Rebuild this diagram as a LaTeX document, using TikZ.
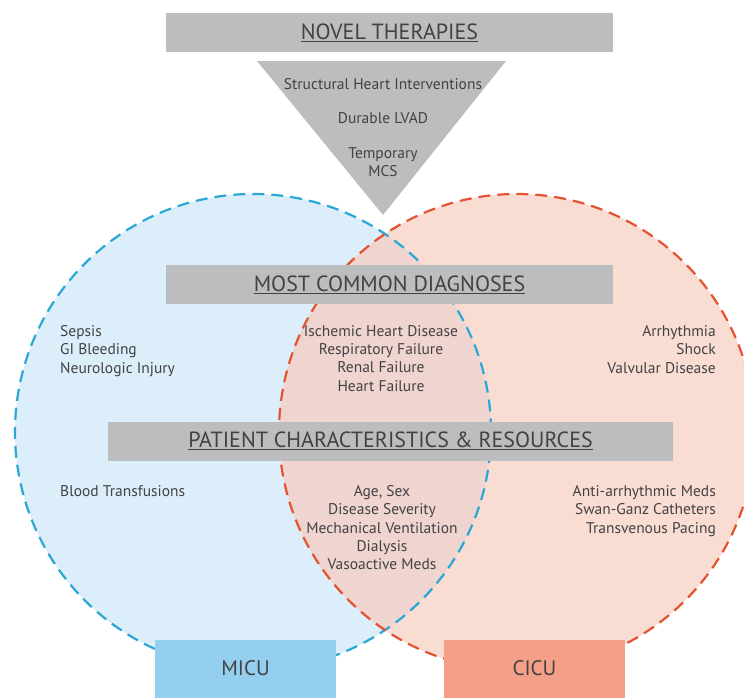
\documentclass[tikz,border=0pt]{standalone}
\usepackage{fontspec}
\setmainfont{PT Sans}

\definecolor{barGray}{HTML}{BCBDBF}
\definecolor{inkGray}{HTML}{424244}
\definecolor{micuFill}{HTML}{DCEEFA}
\definecolor{cicuFill}{HTML}{FADDD2}
\definecolor{lensFill}{HTML}{EFD4D0}
\definecolor{micuLine}{HTML}{2AA7D5}
\definecolor{cicuLine}{HTML}{E4532F}
\definecolor{micuBox}{HTML}{95CFEF}
\definecolor{cicuBox}{HTML}{F49F87}

\tikzset{
  bar/.style={fill=barGray, inner sep=0pt, minimum height=39pt, text=inkGray,
    font=\fontsize{22}{26}\selectfont},
  item/.style={inner sep=0pt, text=inkGray, font=\fontsize{15.5}{18.4}\selectfont},
  unit/.style={inner sep=0pt, minimum width=181pt, minimum height=58pt, text=inkGray,
    font=\fontsize{21}{25}\selectfont},
  ring/.style={line width=2.2pt, dash pattern=on 12pt off 7pt},
}

\begin{document}
\begin{tikzpicture}[x=1pt, y=-1pt, line join=round]

  %% ════ 两个圆（填充）════
  \fill[micuFill] (253,432) circle (238);
  \fill[cicuFill] (517,432) circle (238);
  \begin{scope}
    \clip (253,432) circle (238);
    \fill[lensFill] (517,432) circle (238);
  \end{scope}

  %% ════ 虚线圆周 ════
  \draw[ring, micuLine] (253,432) circle (238);
  \draw[ring, cicuLine] (517,432) circle (238);

  %% ════ 顶部倒三角 ════
  \fill[barGray] (257,61) -- (506,61) -- (383,215) -- cycle;

  %% ════ 灰色横条 ════
  \node[bar, minimum width=447pt] (novel) at (389.5,32.5) {\underline{NOVEL THERAPIES}};
  \node[bar, minimum width=447pt] (diag) at (389.5,284.5) {\underline{MOST COMMON DIAGNOSES}};
  \node[bar, minimum width=565pt] (patient) at (390.5,441) {\underline{PATIENT CHARACTERISTICS \& RESOURCES}};

  %% ════ 三角内文字 ════
  \node[item] (shi) at (383,84) {Structural Heart Interventions};
  \node[item] (lvad) at (383,118) {Durable LVAD};
  \node[item, align=center] (mcs) at (383,162) {Temporary\\MCS};

  %% ════ 诊断 ════
  \node[item, anchor=north west, align=left] (diagL) at (60,325) {Sepsis\\GI Bleeding\\Neurologic Injury};
  \node[item, anchor=north, align=center] (diagM) at (381,325) {Ischemic Heart Disease\\Respiratory Failure\\Renal Failure\\Heart Failure};
  \node[item, anchor=north east, align=right] (diagR) at (716,325) {Arrhythmia\\Shock\\Valvular Disease};

  %% ════ 特征与资源 ════
  \node[item, anchor=north west, align=left] (resL) at (60,485) {Blood Transfusions};
  \node[item, anchor=north, align=center] (resM) at (382,485) {Age, Sex\\Disease Severity\\Mechanical Ventilation\\Dialysis\\Vasoactive Meds};
  \node[item, anchor=north east, align=right] (resR) at (716,485) {Anti-arrhythmic Meds\\Swan-Ganz Catheters\\Transvenous Pacing};

  %% ════ 底部标签 ════
  \node[unit, fill=micuBox] (micu) at (245.5,668.5) {MICU};
  \node[unit, fill=cicuBox] (cicu) at (534.5,668.5) {CICU};

  \pgfresetboundingbox
  \path[use as bounding box] (0,0) rectangle (744,697);
\end{tikzpicture}
\end{document}
